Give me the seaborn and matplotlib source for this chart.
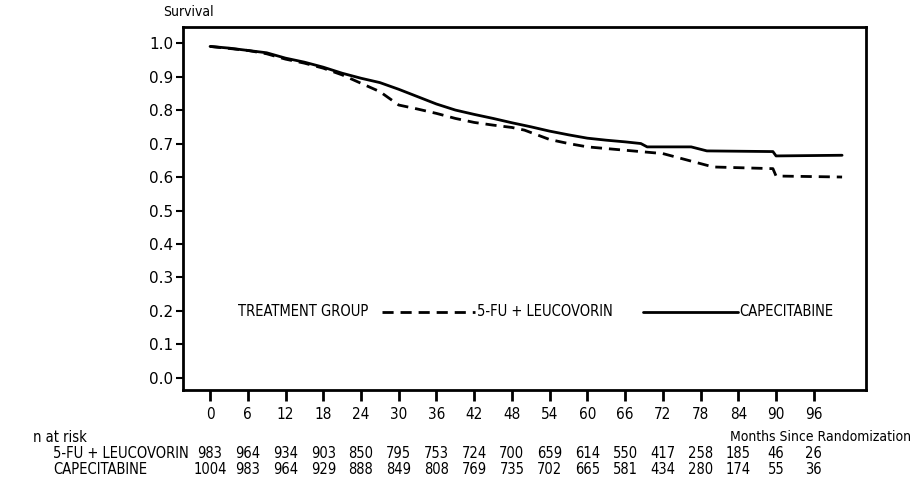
import matplotlib
matplotlib.use('Agg')
import matplotlib.pyplot as plt
import pandas as pd
import seaborn as sns

# Survival curves (months, survival)
cape_months = [0, 3, 6, 9, 12, 15, 18, 21, 24, 27, 30, 33, 36, 39, 42, 45, 48, 51, 54,
               57, 60, 63, 66, 68.5, 69.5, 76.5, 79, 89.5, 90, 100.5]
cape_surv = [0.99, 0.985, 0.978, 0.971, 0.955, 0.943, 0.928, 0.91, 0.895, 0.882, 0.862,
             0.84, 0.818, 0.80, 0.787, 0.775, 0.762, 0.75, 0.737, 0.726, 0.716, 0.71,
             0.705, 0.70, 0.69, 0.69, 0.678, 0.676, 0.663, 0.665]

fu_months = [0, 6, 9, 12, 15, 18, 21, 24, 27, 30, 33, 36, 39, 42, 45, 48, 50, 54, 57,
             60, 63, 66, 69, 72, 75, 78, 80, 89.5, 90, 100.5]
fu_surv = [0.99, 0.978, 0.968, 0.952, 0.94, 0.925, 0.905, 0.88, 0.855, 0.815, 0.803,
           0.79, 0.775, 0.763, 0.755, 0.748, 0.74, 0.712, 0.70, 0.69, 0.685, 0.68,
           0.675, 0.67, 0.655, 0.64, 0.63, 0.625, 0.603, 0.60]

tick_months = [0, 6, 12, 18, 24, 30, 36, 42, 48, 54, 60, 66, 72, 78, 84, 90, 96]
risk_fu = [983, 964, 934, 903, 850, 795, 753, 724, 700, 659, 614, 550, 417, 258, 185, 46, 26]
risk_cape = [1004, 983, 964, 929, 888, 849, 808, 769, 735, 702, 665, 581, 434, 280, 174, 55, 36]

df = pd.concat([
    pd.DataFrame({'month': fu_months, 'survival': fu_surv, 'group': '5-FU + LEUCOVORIN'}),
    pd.DataFrame({'month': cape_months, 'survival': cape_surv, 'group': 'CAPECITABINE'}),
])

sns.set_style('white')
plt.rcParams['font.family'] = ['DejaVu Sans']
plt.rcParams['font.stretch'] = 'condensed'
plt.rcParams['text.color'] = 'black'
plt.rcParams['xtick.color'] = 'black'
plt.rcParams['ytick.color'] = 'black'

fig = plt.figure(figsize=(9.16, 5.0), dpi=100)
ax = fig.add_axes([0.1998, 0.22, 0.7456, 0.726])

sns.lineplot(
    data=df, x='month', y='survival', style='group',
    dashes={'5-FU + LEUCOVORIN': (4, 2.5), 'CAPECITABINE': ''},
    color='black', linewidth=2, estimator=None, sort=False,
    legend=False, ax=ax
)

ax.set_xlim(-4.3, 104.3)
ax.set_ylim(-0.036, 1.048)
ax.set_xticks(tick_months)
ax.set_yticks([i / 10 for i in range(11)])
ax.set_yticklabels([f'{i / 10:.1f}' for i in range(11)], fontsize=11,
                   fontstretch='normal')
ax.set_xticklabels([str(m) for m in tick_months], fontsize=11)
ax.tick_params(axis='y', direction='out', length=5, width=1.5, pad=2, left=True)
ax.tick_params(axis='x', direction='out', length=8, width=2, pad=4, bottom=True)
ax.set_xlabel('')
ax.set_ylabel('')
for s in ax.spines.values():
    s.set_visible(True)
    s.set_color('black')
    s.set_linewidth(2)

fig.text(163 / 916, 1 - 12 / 500, 'Survival', fontsize=10, va='center', ha='left')

# in-plot legend
ly = 0.197
ax.text(4.5, ly, 'TREATMENT GROUP', fontsize=10.5, va='center', ha='left')
ax.plot([27.4, 42.2], [ly, ly], color='black', lw=2, dashes=(4, 2.5))
ax.text(42.4, ly, '5-FU + LEUCOVORIN', fontsize=10.5, va='center', ha='left')
ax.plot([68.8, 84.0], [ly, ly], color='black', lw=2)
ax.text(84.2, ly, 'CAPECITABINE', fontsize=10.5, va='center', ha='left')

# numbers at risk
fig.text(33 / 916, 1 - 437 / 500, 'n at risk', fontsize=10.5, va='center', ha='left')
fig.text(911 / 916, 1 - 437 / 500, 'Months Since Randomization', fontsize=10,
         va='center', ha='right')
fig.text(53 / 916, 1 - 453 / 500, '5-FU + LEUCOVORIN', fontsize=10.5, va='center', ha='left')
fig.text(53 / 916, 1 - 470 / 500, 'CAPECITABINE', fontsize=10.5, va='center', ha='left')
for m, a, b in zip(tick_months, risk_fu, risk_cape):
    xf = ax.transData.transform((m, 0))[0] / fig.bbox.width
    fig.text(xf, 1 - 453 / 500, str(a), fontsize=10.5, va='center', ha='center')
    fig.text(xf, 1 - 470 / 500, str(b), fontsize=10.5, va='center', ha='center')

fig.savefig('out.png', dpi=100)
